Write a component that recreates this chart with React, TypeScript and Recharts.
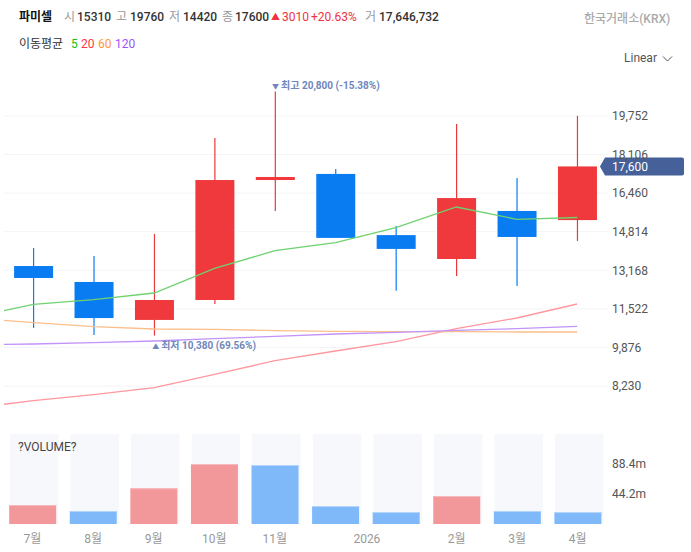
import React from "react";
import {
  Bar,
  BarChart,
  CartesianGrid,
  ComposedChart,
  Line,
  ReferenceDot,
  XAxis,
  YAxis,
} from "recharts";

// first entry of each ma array is the month before the window, clipped by the axis
const opens = [13350, 12670, 11050, 11900, 17020, 17280, 14670, 13650, 15700, 15310];
const closes = [12840, 11130, 11900, 17020, 17150, 14550, 14080, 16250, 14590, 17600];
const highs = [14120, 13780, 14720, 18810, 20800, 17490, 15060, 19410, 17110, 19760];
const lows = [10710, 10410, 10380, 11730, 15700, 14550, 12290, 12930, 12500, 14420];

const ma5 = [11154, 11717, 11914, 12199, 13253, 14004, 14346, 14994, 15869, 15344, 15421];
const ma20 = [7292, 7604, 7860, 8159, 8730, 9311, 9725, 10121, 10676, 11133, 11730];
const ma60 = [11145, 10932, 10761, 10663, 10650, 10591, 10565, 10548, 10548, 10535, 10535];
const ma120 = [9998, 10023, 10079, 10151, 10249, 10352, 10450, 10523, 10608, 10676, 10779];

const volumes = [28, 19.2, 52.6, 88.4, 86.9, 26.5, 17.6, 41.2, 19.2, 17.6];
const volumeUp = [true, false, true, true, false, false, false, true, false, false];

const priceTicks = [8230, 9876, 11522, 13168, 14814, 16460, 18106, 19752];
const volumeTicks = [44.2, 88.4];
const monthTicks = [0, 1, 2, 3, 4, 5.52, 7, 8, 9];
const monthLabels = ["7월", "8월", "9월", "10월", "11월", "2026", "2월", "3월", "4월"];

const RED = "#ef393c";
const BLUE = "#0a7cf2";
const FONT = "Roboto, 'Noto Sans CJK KR', sans-serif";

const priceRows = ma5.map((_, i) => ({
  idx: i - 1,
  open: opens[i - 1],
  close: closes[i - 1],
  high: highs[i - 1],
  low: lows[i - 1],
  ma5: ma5[i],
  ma20: ma20[i],
  ma60: ma60[i],
  ma120: ma120[i],
}));

const volumeRows = volumes.map((v, i) => ({ idx: i, volume: v, up: volumeUp[i] }));

function Candle(props: any) {
  const { x, y, width, height, payload } = props;
  if (payload.high == null) return null;
  const perUnit = height / (payload.high - payload.low);
  const top = y + (payload.high - Math.max(payload.open, payload.close)) * perUnit;
  const bodyH = Math.abs(payload.open - payload.close) * perUnit;
  const up = payload.close >= payload.open;
  const mid = x + width / 2;
  return (
    <g>
      <line x1={mid} x2={mid} y1={y} y2={y + height} stroke={up ? "#e83a3d" : BLUE} strokeWidth={1.2} />
      <rect x={x} y={top} width={width} height={bodyH} fill={up ? RED : BLUE} />
    </g>
  );
}

function VolumeBar(props: any) {
  const { x, y, width, height, payload } = props;
  return (
    <g>
      <rect x={x} y={y} width={width} height={height} fill={payload.up ? "#f2989b" : "#80b9fa"} />
      <rect x={x} y={y} width={width} height={1} fill={payload.up ? "#f6b9bb" : "#b5d6fb"} />
    </g>
  );
}

function VolumeBack(props: any) {
  const { x, y, width, height } = props;
  return <rect x={x + 0.7} y={y} width={width + 1.5} height={height} fill="#f7f8fc" />;
}

function Txt({ x, y, c = "#333", w = 400, size = 12, children }: any) {
  return (
    <span
      style={{
        position: "absolute",
        left: x,
        top: y,
        color: c,
        fontWeight: w,
        fontSize: size,
        lineHeight: "16px",
        whiteSpace: "nowrap",
      }}
    >
      {children}
    </span>
  );
}

function HighMark({ cx, cy }: any) {
  return (
    <text x={cx - 3} y={cy - 2} fontSize={10} fontWeight={700} fill="#7087bb" fontFamily={FONT}>
      <tspan fontSize={7}>▼</tspan>
      <tspan dx={2}>최고 20,800 (-15.38%)</tspan>
    </text>
  );
}

function LowMark({ cx, cy }: any) {
  return (
    <text x={cx - 2} y={cy + 13} fontSize={10} fontWeight={700} fill="#7087bb" fontFamily={FONT}>
      <tspan fontSize={7}>▲</tspan>
      <tspan dx={2}>최저 10,380 (69.56%)</tspan>
    </text>
  );
}

function LastTag({ cx, cy }: any) {
  return (
    <g>
      <path
        d={`M${cx - 8} ${cy} L${cx - 3} ${cy - 9} H${cx + 74} Q${cx + 76} ${cy - 9} ${cx + 76} ${cy - 7} V${cy + 7} Q${cx + 76} ${cy + 9} ${cx + 74} ${cy + 9} H${cx - 3} Z`}
        fill="#46609a"
      />
      <text x={cx + 4} y={cy + 4.5} fontSize={12} fill="#fff" fontFamily={FONT}>
        17,600
      </text>
    </g>
  );
}

export default function App() {
  return (
    <div
      style={{
        position: "absolute",
        left: 0,
        top: 0,
        width: 691,
        height: 552,
        background: "#fff",
        fontFamily: FONT,
        overflow: "hidden",
      }}
    >
      <Txt x={19} y={9} c="#111" w={700}>파미셀</Txt>
      <Txt x={64} y={9} c="#999">시</Txt>
      <Txt x={77} y={9} w={500}>15310</Txt>
      <Txt x={116} y={9} c="#999">고</Txt>
      <Txt x={130} y={9} w={500}>19760</Txt>
      <Txt x={169} y={9} c="#999">저</Txt>
      <Txt x={183} y={9} w={500}>14420</Txt>
      <Txt x={222} y={9} c="#999">종</Txt>
      <Txt x={235} y={9} w={500}>17600</Txt>
      <Txt x={271} y={9} c="#f0333c" size={9}>▲</Txt>
      <Txt x={282} y={9} c="#f0333c">3010</Txt>
      <Txt x={311} y={9} c="#f0333c">+20.63%</Txt>
      <Txt x={365} y={9} c="#999">거</Txt>
      <Txt x={379} y={9} w={500}>17,646,732</Txt>
      <Txt x={584} y={11} c="#aaa" w={500}>한국거래소(KRX)</Txt>

      <Txt x={19} y={36} c="#333">이동평균</Txt>
      <Txt x={71} y={36} c="#12c412">5</Txt>
      <Txt x={81} y={36} c="#ff3344">20</Txt>
      <Txt x={98} y={36} c="#ff9933">60</Txt>
      <Txt x={115} y={36} c="#9955ff">120</Txt>

      <Txt x={624} y={50} c="#555">Linear</Txt>
      <svg style={{ position: "absolute", left: 662, top: 55 }} width={11} height={8}>
        <path d="M1 1.5 L5.5 6 L10 1.5" fill="none" stroke="#555" strokeWidth={1} />
      </svg>

      <div style={{ position: "absolute", left: 0, top: 70 }}>
        <ComposedChart width={691} height={350} data={priceRows} margin={{ top: 0, right: 0, bottom: 0, left: 4 }}>
          <CartesianGrid horizontal vertical={false} syncWithTicks stroke="#f3f4f7" />
          <XAxis dataKey="idx" type="number" domain={[-0.485, 9.51]} allowDataOverflow hide />
          <YAxis
            orientation="right"
            width={83}
            domain={[6780, 21715]}
            ticks={priceTicks}
            allowDataOverflow
            axisLine={false}
            tickLine={false}
            tickSize={0}
            tickMargin={4}
            tick={{ fill: "#555", fontSize: 12, fontFamily: FONT }}
            tickFormatter={(v: number) => v.toLocaleString("en-US")}
          />
          <Bar
            dataKey={(d: any) => (d.high == null ? null : [d.low, d.high])}
            barSize={39}
            shape={<Candle />}
            isAnimationActive={false}
          />
          <Line dataKey="ma5" stroke="#6fd16f" strokeWidth={1.3} dot={false} isAnimationActive={false} />
          <Line dataKey="ma20" stroke="#ff979e" strokeWidth={1.3} dot={false} isAnimationActive={false} />
          <Line dataKey="ma60" stroke="#fbbf8c" strokeWidth={1.3} dot={false} isAnimationActive={false} />
          <Line dataKey="ma120" stroke="#c393fa" strokeWidth={1.3} dot={false} isAnimationActive={false} />
          <ReferenceDot x={4} y={20800} ifOverflow="visible" shape={<HighMark />} />
          <ReferenceDot x={2} y={10380} ifOverflow="visible" shape={<LowMark />} />
          <ReferenceDot x={9.51} y={17600} ifOverflow="visible" shape={<LastTag />} />
        </ComposedChart>
      </div>

      <div style={{ position: "absolute", left: 0, top: 434 }}>
        <BarChart width={691} height={118} data={volumeRows} margin={{ top: 0, right: 0, bottom: 0, left: 4 }}>
          <XAxis
            dataKey="idx"
            type="number"
            domain={[-0.47, 9.5]}
            ticks={monthTicks}
            interval={0}
            allowDataOverflow
            height={28}
            axisLine={false}
            tickLine={false}
            tickMargin={4}
            tick={{ fill: "#999", fontSize: 12, fontFamily: FONT }}
            tickFormatter={(v: number) => monthLabels[monthTicks.indexOf(v)]}
          />
          <YAxis
            orientation="right"
            width={83}
            domain={[0, 132.6]}
            ticks={volumeTicks}
            axisLine={false}
            tickLine={false}
            tickSize={0}
            tickMargin={4}
            tick={{ fill: "#555", fontSize: 12, fontFamily: FONT }}
            tickFormatter={(v: number) => `${v}m`}
          />
          <Bar
            dataKey="volume"
            barSize={47}
            background={<VolumeBack />}
            shape={<VolumeBar />}
            isAnimationActive={false}
          />
        </BarChart>
      </div>
      <Txt x={18} y={439} c="#444">?VOLUME?</Txt>
    </div>
  );
}
